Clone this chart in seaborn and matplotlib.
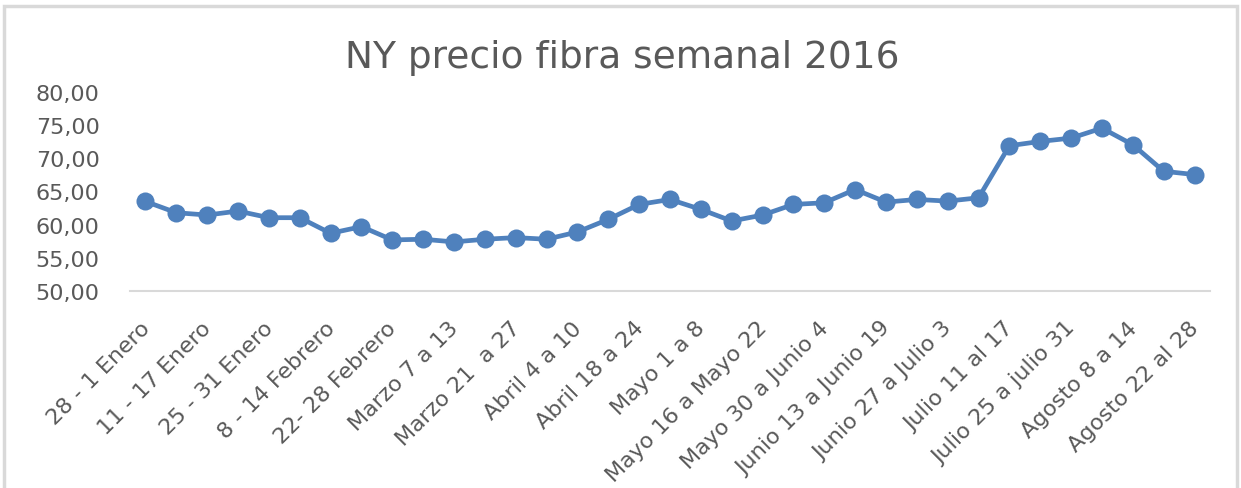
import matplotlib
matplotlib.use("Agg")
import matplotlib.pyplot as plt
import matplotlib.transforms as mtransforms
import seaborn as sns
import pandas as pd
from matplotlib.patches import Rectangle

# weekly price values, 35 weeks
semana = list(range(35))
precio = [63.5, 61.8, 61.45, 62.05, 61.05, 61.05, 58.7, 59.7, 57.7, 57.8,
          57.4, 57.8, 58.05, 57.8, 58.9, 60.8, 63.05, 63.8, 62.3, 60.55,
          61.45, 63.05, 63.3, 65.3, 63.4, 63.8, 63.55, 64.05, 71.9, 72.55,
          73.05, 74.55, 72.05, 68.05, 67.55]

# only every other week is labelled in the chart
etiquetas = ["28 - 1 Enero", "11 - 17 Enero", "25 - 31 Enero", "8 - 14 Febrero",
             "22- 28 Febrero", "Marzo 7 a 13", "Marzo 21  a 27", "Abril 4 a 10",
             "Abril 18 a 24", "Mayo 1 a 8", "Mayo 16 a Mayo 22", "Mayo 30 a Junio 4",
             "Junio 13 a Junio 19", "Junio 27 a Julio 3", "Julio 11 al 17",
             "Julio 25 a julio 31", "Agosto 8 a 14", "Agosto 22 al 28"]
yticks = [50, 55, 60, 65, 70, 75, 80]

df = pd.DataFrame({"semana": semana, "precio": precio})

sns.set_theme(style="white")
plt.rcParams['font.family'] = ['DejaVu Sans']
gris = "#595959"
azul = "#4F81BD"

fig = plt.figure(figsize=(12.41, 4.89), dpi=100)
ax = fig.add_axes([0.1048, 0.4029, 0.8702, 0.4069])

sns.lineplot(data=df, x="semana", y="precio", ax=ax, color=azul, linewidth=3.4,
             marker="o", markersize=13, markeredgewidth=0, markeredgecolor=azul)

ax.set_xlim(-0.5, 34.5)
ax.set_ylim(50, 80)
ax.set_yticks(yticks)
ax.set_yticklabels([f"{v:.2f}".replace(".", ",") for v in yticks],
                   fontsize=16, color=gris)
ax.set_xticks(semana[::2])
ax.set_xticklabels(etiquetas, rotation=45, ha="right", va="top",
                   rotation_mode="anchor", fontsize=16, color=gris)
ax.tick_params(axis="both", length=0)
ax.tick_params(axis="y", pad=22)
ax.tick_params(axis="x", pad=6)
ax.set_xlabel("")
ax.set_ylabel("")

# shift x labels down a little, like the original
desplaza = mtransforms.ScaledTranslation(-6 / 100, -18 / 100, fig.dpi_scale_trans)
for lab in ax.get_xticklabels():
    lab.set_transform(lab.get_transform() + desplaza)

for s in ["top", "right", "left"]:
    ax.spines[s].set_visible(False)
ax.spines["bottom"].set_color("#d9d9d9")
ax.spines["bottom"].set_linewidth(1.5)

fig.text(0.5016, 0.881, "NY precio fibra semanal 2016", ha="center", va="center",
         fontsize=27, color=gris)

# chart area border
fig.patches.append(Rectangle((4 / 1241, -0.05), 1233 / 1241, 1.05 - 7 / 489,
                             transform=fig.transFigure, fill=False,
                             edgecolor="#d9d9d9", linewidth=2.5))

fig.savefig("out.png", dpi=100)
plt.close()
